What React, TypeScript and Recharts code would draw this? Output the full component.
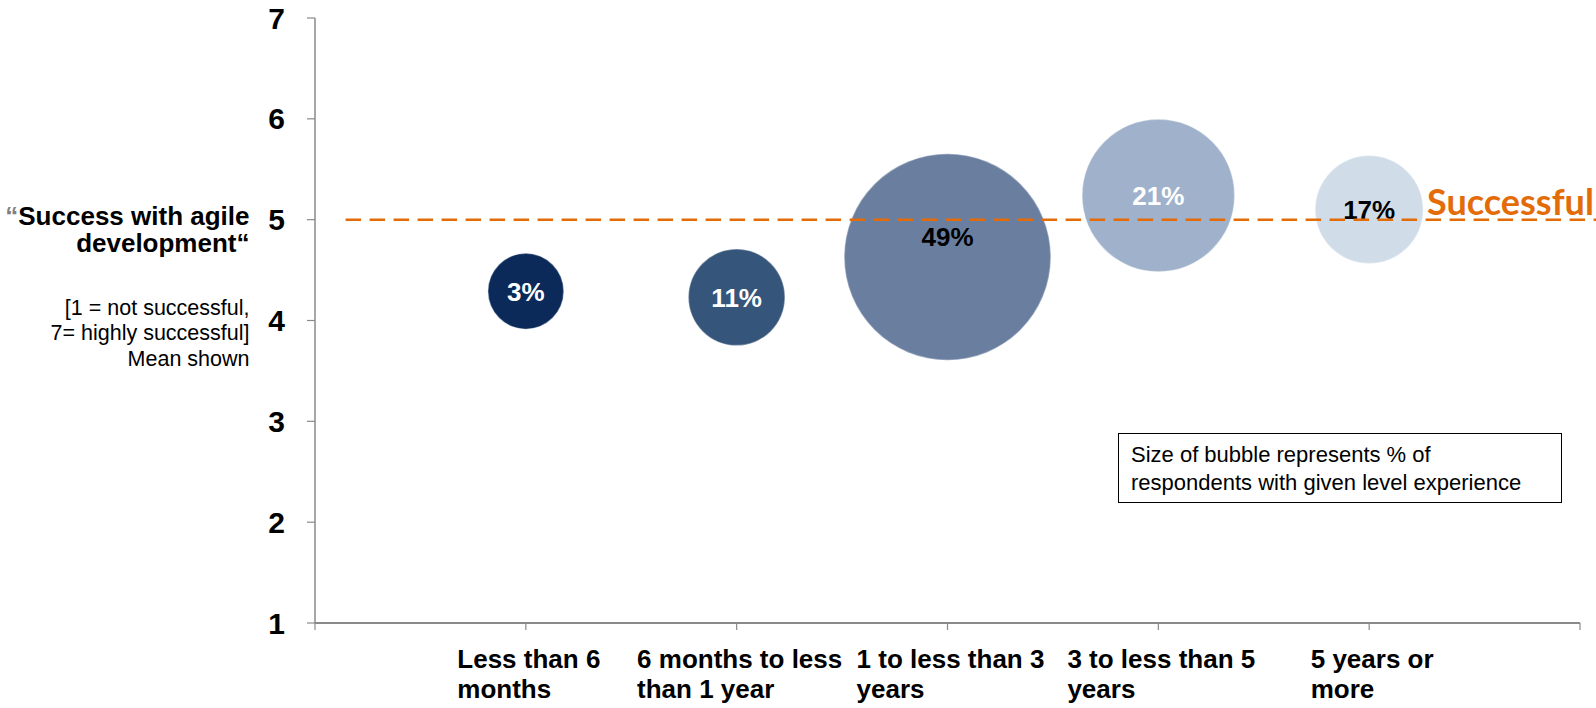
import React from "react"
import { ScatterChart, Scatter, XAxis, YAxis, ZAxis, Cell, LabelList, ReferenceLine } from "recharts"

const categories = [
  "Less than 6\nmonths",
  "6 months to less\nthan 1 year",
  "1 to less than 3\nyears",
  "3 to less than 5\nyears",
  "5 years or\nmore",
]
const successMeans = [4.29, 4.23, 4.63, 5.24, 5.1]
const shareLabels = ["3%", "11%", "49%", "21%", "17%"]
// bubble areas as they appear in the picture (49% bubble = 49)
const bubbleSizes = [6.6, 10.7, 49, 26.7, 13.4]
const bubbleColors = ["#0b2a5a", "#36557a", "#6a7fa0", "#a0b2cb", "#d0dde9"]
const labelColors = ["#ffffff", "#ffffff", "#000000", "#ffffff", "#000000"]
const yTicks = [1, 2, 3, 4, 5, 6, 7]
const xTicks = [0, 1, 2, 3, 4, 5, 6]
const successThreshold = 5
const thresholdFrom = 0.145
const thresholdTo = 6.08

const FONT = '"Liberation Sans", Arial, sans-serif'
const ORANGE = "#e36c09"
const AXIS = "#8a8a8a"

const data = categories.map((c, i) => ({
  x: i + 1,
  y: successMeans[i],
  z: bubbleSizes[i],
  label: shareLabels[i],
}))

let ctx: CanvasRenderingContext2D | null = null
function textWidth(s: string, font: string) {
  if (!ctx) ctx = document.createElement("canvas").getContext("2d")
  if (!ctx) return s.length * 13
  ctx.font = font
  return ctx.measureText(s).width
}

function CategoryTick(props: any) {
  const { x, y, payload } = props
  const cat = categories[payload.value - 1]
  if (!cat) return null
  const lines = cat.split("\n")
  const w = textWidth(lines[0], `bold 26px ${FONT}`)
  const left = x - w / 2 + 3
  return (
    <text fontFamily={FONT} fontSize={26} fontWeight="bold" fill="#000" textAnchor="start">
      {lines.map((l, i) => (
        <tspan key={i} x={left} y={y + 38 + i * 30}>{l}</tspan>
      ))}
    </text>
  )
}

function BubbleLabel(props: any) {
  const { x, y, width, height, value, index } = props
  const cx = x + width / 2
  const cy = y + height / 2 + (index === 2 ? -20 : 0)
  return (
    <text x={cx} y={cy} dy="0.36em" textAnchor="middle" fontFamily={FONT}
      fontSize={26} fontWeight="bold" fill={labelColors[index]}>
      {value}
    </text>
  )
}

function SuccessLabel(props: any) {
  const vb = props.viewBox || {}
  const right = (vb.x ?? 0) + (vb.width ?? 0)
  return (
    <text x={right - 3} y={(vb.y ?? 0) - 5} textAnchor="end"
      fontFamily="Lato, 'Open Sans', sans-serif" fontWeight="bold" fontSize={36} fill={ORANGE}>
      Successful
    </text>
  )
}

export default function App() {
  return (
    <div style={{ position: "absolute", left: 0, top: 0, width: 1596, height: 708, background: "#fff" }}>
      <ScatterChart width={1596} height={708} margin={{ top: 18, right: 16, bottom: 0, left: 0 }}>
        <XAxis
          type="number"
          dataKey="x"
          domain={[0, 6]}
          ticks={xTicks}
          interval={0}
          height={85}
          tick={<CategoryTick />}
          tickSize={7}
          tickMargin={0}
          axisLine={{ stroke: AXIS, strokeWidth: 2 }}
          tickLine={{ stroke: AXIS, strokeWidth: 1.2 }}
        />
        <YAxis
          type="number"
          dataKey="y"
          domain={[1, 7]}
          ticks={yTicks}
          interval={0}
          width={315}
          tickSize={8}
          tickMargin={22}
          tick={{ fontSize: 30, fontWeight: "bold", fill: "#000", fontFamily: FONT }}
          axisLine={{ stroke: AXIS, strokeWidth: 1.5 }}
          tickLine={{ stroke: AXIS, strokeWidth: 1.2 }}
        />
        <ZAxis type="number" dataKey="z" domain={[0, 49]} range={[0, 33523]} />
        <Scatter data={data} isAnimationActive={false}>
          {data.map((d, i) => (
            <Cell key={i} fill={bubbleColors[i]} stroke="#ffffff" strokeOpacity={0.35} strokeWidth={1.5} />
          ))}
          <LabelList dataKey="label" content={<BubbleLabel />} />
        </Scatter>
        <ReferenceLine
          segment={[{ x: thresholdFrom, y: successThreshold }, { x: thresholdTo, y: successThreshold }]}
          ifOverflow="visible"
          stroke={ORANGE}
          strokeWidth={2.5}
          strokeDasharray="15.5 8.5"
          label={<SuccessLabel />}
          {...({ zIndex: 2000 } as any)}
        />
      </ScatterChart>

      <div style={{
        position: "absolute", left: 0, top: 203, width: 249.5, textAlign: "right",
        fontFamily: FONT, fontWeight: "bold", fontSize: 26, lineHeight: "27px", color: "#000",
        whiteSpace: "nowrap",
      }}>
        <span style={{ color: "#808080" }}>“</span>Success with agile<br />development“
      </div>
      <div style={{
        position: "absolute", left: 0, top: 295.5, width: 249.5, textAlign: "right",
        fontFamily: FONT, fontSize: 21.5, lineHeight: "25.8px", color: "#000", whiteSpace: "nowrap",
      }}>
        [1 = not successful,<br />7= highly successful]<br />Mean shown
      </div>

      <div style={{
        position: "absolute", left: 1118, top: 433, width: 444, height: 70, boxSizing: "border-box",
        border: "1.5px solid #000", padding: "7px 0 0 12px", fontFamily: FONT, fontSize: 22,
        lineHeight: "28.4px", color: "#000", whiteSpace: "nowrap", background: "#fff",
      }}>
        Size of bubble represents % of<br />respondents with given level experience
      </div>
    </div>
  )
}
